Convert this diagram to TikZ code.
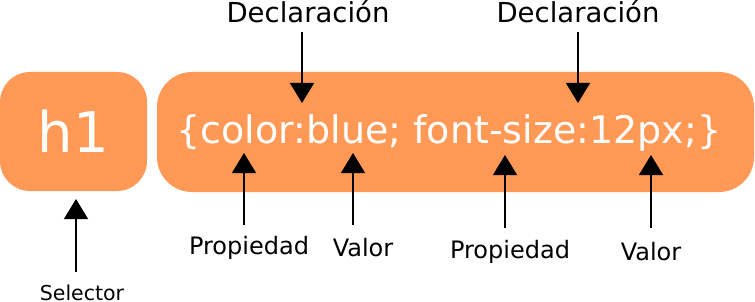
\documentclass[tikz,border=0pt]{standalone}
\usepackage{fontspec}
\setmainfont{DejaVu Sans}
\usetikzlibrary{arrows.meta}
\definecolor{cssorange}{RGB}{255,153,85}
\tikzset{
  block/.style={fill=cssorange, draw=none},
  codetext/.style={text=white, inner sep=0pt, anchor=base},
  label/.style={text=black, inner sep=0pt, anchor=base, font=\fontsize{24}{27}\selectfont},
  toplabel/.style={text=black, inner sep=0pt, anchor=base, font=\fontsize{27.5}{30}\selectfont},
  pointer/.style={draw=black, line width=1.3pt, -{Triangle[width=24pt,length=20pt]}},
}
\begin{document}
\begin{tikzpicture}[x=1pt,y=-1pt]
  \useasboundingbox (0,0) rectangle (755,302);

  % selector and declaration block
  \fill[block, rounded corners=30pt] (0,72) rectangle (147,191);
  \fill[block, rounded corners=35pt] (157,72) rectangle (754,192);

  \node[codetext, font=\fontsize{56}{60}\selectfont] (sel) at (73.5,153) {h1};
  \node[codetext, font=\fontsize{38}{42}\selectfont] (rule) at (449,143) {\{color:blue; font-size:12px;\}};

  % labels
  \node[toplabel] (decl1) at (308,23) {Declaración};
  \node[toplabel] (decl2) at (578,23) {Declaración};
  \node[label] (prop1) at (249,254) {Propiedad};
  \node[label] (val1) at (363,256) {Valor};
  \node[label] (prop2) at (510,258) {Propiedad};
  \node[label] (val2) at (651,260) {Valor};
  \node[label, font=\fontsize{20.5}{22}\selectfont] (selname) at (82,300) {Selector};

  % arrow ends
  \coordinate (d1a) at (302,32);   \coordinate (d1b) at (302,103);
  \coordinate (d2a) at (578,32);   \coordinate (d2b) at (578,103);
  \coordinate (p1a) at (244,225);  \coordinate (p1b) at (244,153);
  \coordinate (v1a) at (353,225);  \coordinate (v1b) at (353,153);
  \coordinate (p2a) at (505,228);  \coordinate (p2b) at (505,155);
  \coordinate (v2a) at (651,228);  \coordinate (v2b) at (651,155);
  \coordinate (sa)  at (76,272);   \coordinate (sb)  at (76,199);

  \draw[pointer] (d1a) -- (d1b);
  \draw[pointer] (d2a) -- (d2b);
  \draw[pointer] (p1a) -- (p1b);
  \draw[pointer] (v1a) -- (v1b);
  \draw[pointer] (p2a) -- (p2b);
  \draw[pointer] (v2a) -- (v2b);
  \draw[pointer] (sa) -- (sb);
\end{tikzpicture}
\end{document}
